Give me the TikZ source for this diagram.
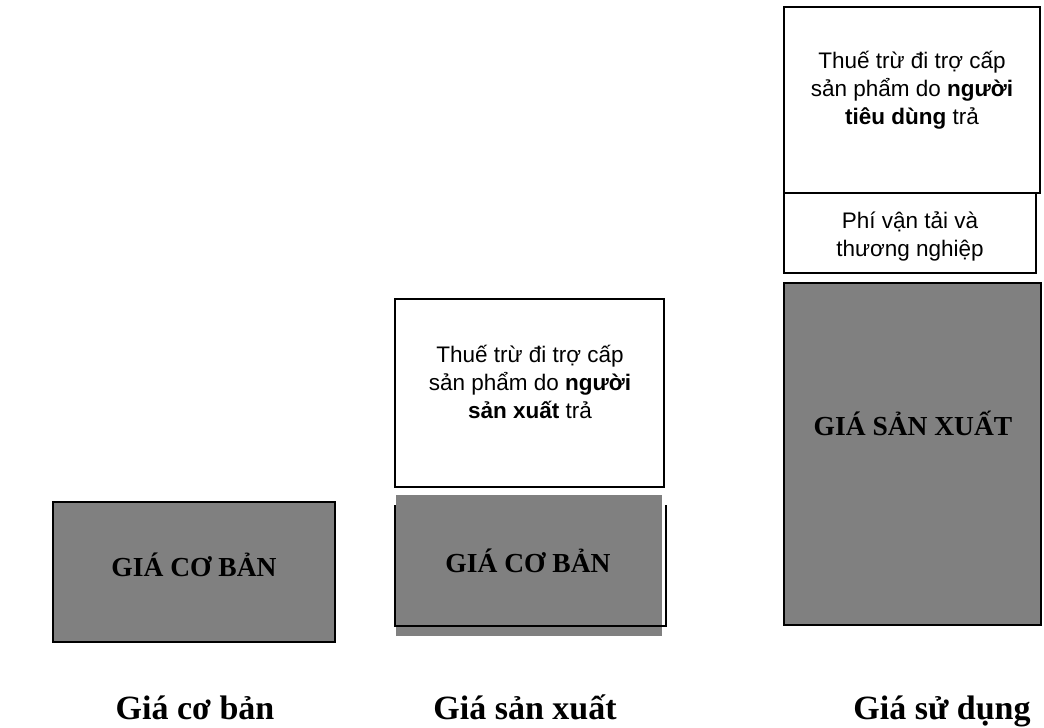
\documentclass[tikz,border=0pt]{standalone}
\usepackage{fontspec}
\setmainfont{Liberation Serif}
\newfontfamily\arialfont{Liberation Sans}
\definecolor{boxgray}{HTML}{808080}
\tikzset{
  whitebox/.style={draw=black, line width=2pt, fill=white, inner sep=0pt},
  graybox/.style={draw=black, line width=2pt, fill=boxgray, inner sep=0pt},
  graytext/.style={font=\fontsize{27.5}{30}\selectfont\bfseries, inner sep=0pt, anchor=base},
  sanstext/.style={font=\arialfont\fontsize{22.5}{28}\selectfont, inner sep=0pt, anchor=base},
  caption/.style={font=\fontsize{34}{38}\selectfont\bfseries, inner sep=0pt, anchor=base}
}
\begin{document}
\begin{tikzpicture}[x=1pt,y=-1pt]
\useasboundingbox (0,0) rectangle (1044,728);
\fill[white] (0,0) rectangle (1044,728);

% column 1
\node[graybox, minimum width=282pt, minimum height=140pt] (b1) at (194,572) {};
\node[graytext] (t1) at (194,576) {GIÁ CƠ BẢN};

% column 2
\node[whitebox, minimum width=269pt, minimum height=188pt] (top2) at (529.5,393) {};
\node[sanstext] (s2) at (530,362) {\begin{tabular}[t]{@{}c@{}}Thuế trừ đi trợ cấp\\sản phẩm do \textbf{người}\\\textbf{sản xuất} trả\end{tabular}};
\node[fill=boxgray, inner sep=0pt, minimum width=266pt, minimum height=141pt] (b2) at (529,565.5) {};
\coordinate (o1) at (395,505);
\coordinate (o2) at (395,626);
\coordinate (o3) at (666,626);
\coordinate (o4) at (666,505);
\draw[line width=2pt] (o1) -- (o2) -- (o3) -- (o4);
\node[graytext] (t2) at (528,572) {GIÁ CƠ BẢN};

% column 3
\node[graybox, minimum width=257pt, minimum height=342pt] (b3) at (912.5,454) {};
\node[graytext] (t3) at (913,435) {GIÁ SẢN XUẤT};
\node[whitebox, minimum width=252pt, minimum height=80pt] (mid3) at (910,233) {};
\node[whitebox, minimum width=256pt, minimum height=186pt] (top3) at (912,100) {};
\node[sanstext] (s3) at (912,68) {\begin{tabular}[t]{@{}c@{}}Thuế trừ đi trợ cấp\\sản phẩm do \textbf{người}\\\textbf{tiêu dùng} trả\end{tabular}};
\node[sanstext] (s4) at (910,228) {\begin{tabular}[t]{@{}c@{}}Phí vận tải và\\thương nghiệp\end{tabular}};

% captions
\node[caption] (c1) at (195,719) {Giá cơ bản};
\node[caption] (c2) at (525,719) {Giá sản xuất};
\node[caption] (c3) at (942,719) {Giá sử dụng};
\end{tikzpicture}
\end{document}
